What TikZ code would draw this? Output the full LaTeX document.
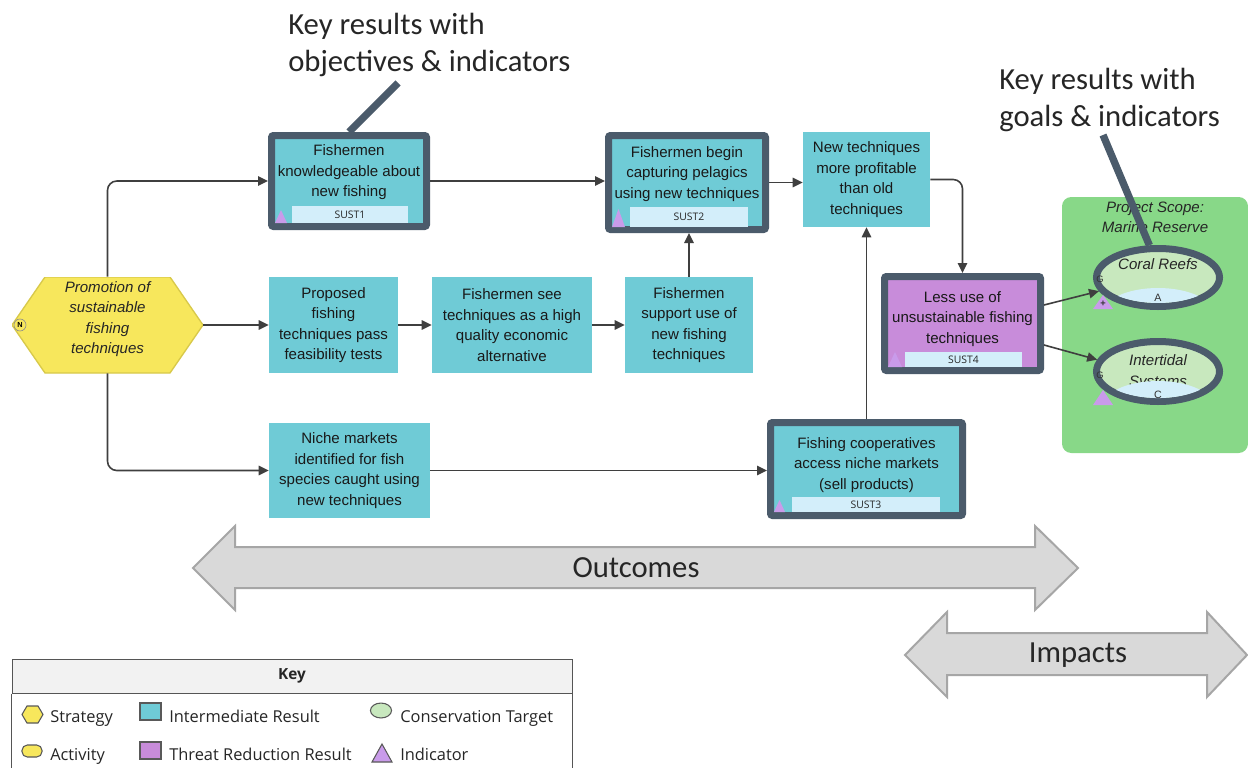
\documentclass[tikz,border=0pt]{standalone}
\usepackage{fontspec}
\setmainfont{Liberation Sans}
\newfontfamily\calib{Carlito}
\newfontfamily\segoe{Open Sans}
\usetikzlibrary{arrows.meta,calc,shapes.geometric}
\definecolor{irteal}{HTML}{6FCBD6}
\definecolor{kdark}{HTML}{4B5B6B}
\definecolor{trpurple}{HTML}{C88CDA}
\definecolor{indpurple}{HTML}{C99BEA}
\definecolor{subblue}{HTML}{D3EEFA}
\definecolor{hexy}{HTML}{F7E75C}
\definecolor{hexline}{HTML}{D8C94A}
\definecolor{scopegreen}{HTML}{88D888}
\definecolor{tgreen}{HTML}{C8E8BE}
\definecolor{arrfill}{HTML}{D9D9D9}
\definecolor{arrline}{HTML}{A6A6A6}
\definecolor{linec}{HTML}{3F3F3F}
\definecolor{keyborder}{HTML}{555555}
\definecolor{keyhead}{HTML}{F2F2F2}
\tikzset{
  conn/.style={draw=linec, line width=1.2pt, -{Triangle[length=7.5pt,width=7pt]}},
  rnd/.style={rounded corners=7pt},
  sz/.style 2 args={minimum width=#1*0.75pt, minimum height=#2*0.75pt},
  btxt/.style={font=\fontsize{11.3}{15.4}\selectfont, align=center, text=black!90},
  irbox/.style={rectangle, fill=irteal, inner sep=0pt, btxt},
  trbox/.style={rectangle, fill=trpurple, inner sep=0pt, btxt},
  keyres/.style={draw=kdark, line width=5.25pt, rounded corners=1.5pt},
  subb/.style={rectangle, fill=subblue, inner sep=0pt, text=black!85, font=\segoe\fontsize{7.8}{9}\selectfont},
  indic/.style={fill=indpurple},
  calline/.style={draw=kdark, line width=5.5pt},
  bigtxt/.style={font=\calib\fontsize{23}{27.5}\selectfont, align=left, inner sep=0pt, text=black!85},
  blockarrow/.style={fill=arrfill, draw=arrline, line width=1.5pt, line join=miter},
  itxt/.style={font=\itshape\fontsize{11.3}{15.4}\selectfont, align=center, inner sep=0pt, text=black!85},
  tiny/.style={font=\fontsize{7}{8}\selectfont, inner sep=0pt, text=black!80},
  legtxt/.style={anchor=base west, inner sep=0pt, font=\segoe\fontsize{12.3}{14}\selectfont, text=black!85},
  legicon/.style={draw=black!65, line width=0.8pt},
}
\begin{document}
\begin{tikzpicture}[x=0.75pt,y=-0.75pt]
\useasboundingbox (0,0) rectangle (1248,767);
\fill[white] (0,0) rectangle (1248,767);

% ---------- strategy ----------
\node[rectangle, sz={191}{96}, inner sep=0pt, itxt,
  path picture={\filldraw[fill=hexy, draw=hexline, line width=1pt]
    (path picture bounding box.west)
    -- ($(path picture bounding box.north west)+(33,0)$)
    -- ($(path picture bounding box.north east)+(-33,0)$)
    -- (path picture bounding box.east)
    -- ($(path picture bounding box.south east)+(-33,0)$)
    -- ($(path picture bounding box.south west)+(33,0)$) -- cycle;}]
  (strat) at (107.5,325) {Promotion of\\sustainable\\fishing\\techniques\\[-4pt]\mbox{}};
\node[circle, fill=hexy, draw=black!45, line width=0.5pt, inner sep=0pt, minimum size=9pt,
  font=\bfseries\fontsize{5.5}{6}\selectfont] (nmark) at (20,325) {N};

% ---------- result boxes ----------
\node[irbox, keyres, sz={155}{91}] (s1) at (349,181) {Fishermen\\knowledgeable about\\new fishing\\\mbox{}};
\node[irbox, keyres, sz={157}{94}] (s2) at (687,182.5) {Fishermen begin\\capturing pelagics\\using new techniques\\\mbox{}};
\node[irbox, sz={127}{95}] (newt) at (866.5,179.5) {New techniques\\more profitable\\than old\\techniques};
\node[irbox, sz={129}{96}] (prop) at (333.5,325) {Proposed\\fishing\\techniques pass\\feasibility tests};
\node[irbox, sz={160}{96}] (see) at (512,325) {Fishermen see\\techniques as a high\\quality economic\\alternative};
\node[irbox, sz={128}{96}] (supp) at (689,325) {Fishermen\\support use of\\new fishing\\techniques};
\node[irbox, sz={161}{95}] (niche) at (349.5,470.5) {Niche markets\\identified for fish\\species caught using\\new techniques};
\node[irbox, keyres, sz={192}{93}] (s3) at (866.5,469) {Fishing cooperatives\\access niche markets\\(sell products)\\[-7pt]\mbox{}};
\node[trbox, keyres, sz={156}{94}] (s4) at (962.5,323.5) {Less use of\\unsustainable fishing\\techniques\\[-6pt]\mbox{}};

% sub-boxes and indicators
\node[subb, sz={116}{17}] (s1i) at (350,214.5) {SUST1};
\node[subb, sz={118}{20}] (s2i) at (689,216.5) {SUST2};
\node[subb, sz={148}{15}] (s3i) at (866,504.5) {SUST3};
\node[subb, sz={117}{15}] (s4i) at (963.5,359.5) {SUST4};
\fill[indic] (275,223) -- (281,210) -- (287,223) -- cycle;
\fill[indic] (612,227) -- (618.5,209) -- (625,227) -- cycle;
\fill[indic] (774,512) -- (779.5,500) -- (785,512) -- cycle;
\fill[indic] (888,367) -- (895,352) -- (902,367) -- cycle;

% ---------- project scope ----------
\node[rectangle, rounded corners=7pt, fill=scopegreen, sz={186}{256}] (scope) at (1155,325) {};
\node[itxt] (scopet) at (1155,217) {Project Scope:\\Marine Reserve};

% coral reefs
\node[ellipse, fill=tgreen, draw=kdark, line width=5.25pt, inner sep=0pt, sz={123}{58}] (coral) at (1158,277.5) {};
\node[itxt] (coralt) at (1158,264) {Coral Reefs};
\begin{scope}
  \clip (1158,277.5) ellipse (43.5pt and 19.1pt);
  \fill[subblue] (1158,313) ellipse (41.25pt and 18.75pt);
\end{scope}
\node[tiny, font=\fontsize{8}{9}\selectfont] (corala) at (1158,298) {A};
\node[tiny] (coralg) at (1100,279) {G};
\fill[indic] (1093,309) -- (1103,295) -- (1113,309) -- cycle;
\node[tiny, font=\bfseries\fontsize{7}{8}\selectfont] (coralp) at (1103,304) {+};

% intertidal systems
\node[ellipse, fill=tgreen, draw=kdark, line width=5.25pt, inner sep=0pt, sz={123}{60}] (inter) at (1158,371.5) {};
\node[itxt] (intert) at (1158,372) {Intertidal\\Systems};
\begin{scope}
  \clip (1158,371.5) ellipse (43.5pt and 19.9pt);
  \fill[subblue] (1158,406) ellipse (41.25pt and 18.75pt);
\end{scope}
\node[tiny, font=\fontsize{8}{9}\selectfont] (interc) at (1158,395) {C};
\node[tiny] (interg) at (1100,375) {G};
\fill[indic] (1093,405) -- (1103,390) -- (1113,405) -- cycle;

% ---------- connectors ----------
\draw[conn, rnd] (strat.north) |- (s1.west);
\draw[conn, rnd] (strat.south) |- (niche.west);
\draw[conn] (strat.east) -- (prop.west);
\draw[conn] (prop.east) -- (see.west);
\draw[conn] (see.east) -- (supp.west);
\draw[conn] (supp.north) -- (supp.north |- s2.south);
\draw[conn] (s1.east) -- (s1.east -| s2.west);
\draw[conn] (s2.east) -- (s2.east -| newt.west);
\draw[conn, rnd] (newt.east) -| (s4.north);
\draw[conn] (s3.north) -- (s3.north |- newt.south);
\draw[conn] (niche.east) -- (niche.east -| s3.west);
\draw[conn] ($(s4.east)+(0,-18.5)$) -- (coral.193);
\draw[conn] ($(s4.east)+(0,21.5)$) -- (inter.169);

% ---------- callouts ----------
\node[bigtxt, anchor=west] (k1) at (288,45) {Key results with\\objectives \& indicators};
\coordinate (c1) at (398,83);
\draw[calline] (c1) -- (s1.north);
\node[bigtxt, anchor=west] (k2) at (999,100) {Key results with\\goals \& indicators};
\coordinate (c2) at (1103,135);
\draw[calline] (c2) -- (coral.105);

% ---------- outcomes / impacts ----------
\filldraw[blockarrow] (193,568) -- (235,526) -- (235,547) -- (1035,547) -- (1035,526) -- (1078,568)
  -- (1035,610) -- (1035,588) -- (235,588) -- (235,610) -- cycle;
\node[font=\calib\fontsize{23}{27}\selectfont, text=black!85] (outc) at (636,568) {Outcomes};
\filldraw[blockarrow] (905,655) -- (947,612) -- (947,633) -- (1207,633) -- (1207,612) -- (1247,655)
  -- (1207,697) -- (1207,675) -- (947,675) -- (947,697) -- cycle;
\node[font=\calib\fontsize{23}{27}\selectfont, text=black!85] (imp) at (1078,655) {Impacts};

% ---------- key ----------
\node[draw=keyborder, fill=keyhead, line width=0.75pt, sz={560}{34}, inner sep=0pt,
  font=\segoe\bfseries\fontsize{11.5}{13}\selectfont, text=black!85] (khead) at (292,676) {Key};
\draw[keyborder, line width=0.75pt] (khead.south west) -- ++(0,120);
\draw[keyborder, line width=0.75pt] (khead.south east) -- ++(0,120);

\filldraw[legicon, fill=hexy] (22,714.5) -- (27,706) -- (38,706) -- (43,714.5) -- (38,723) -- (27,723) -- cycle;
\filldraw[legicon, fill=hexy, rounded corners=4pt] (22,745) rectangle (42,757);
\filldraw[legicon, fill=irteal] (140,703) rectangle (161,720);
\filldraw[legicon, fill=trpurple] (140,742) rectangle (161,759);
\filldraw[legicon, fill=tgreen] (381,710.5) ellipse (7.9pt and 5.6pt);
\filldraw[legicon, fill=indpurple] (372,762) -- (382,744) -- (392,762) -- cycle;

\node[legtxt] (lstr) at (50,722) {Strategy};
\node[legtxt] (lir) at (169,722) {Intermediate Result};
\node[legtxt] (lct) at (400,722) {Conservation Target};
\node[legtxt] (lact) at (50,760) {Activity};
\node[legtxt] (ltr) at (169,760) {Threat Reduction Result};
\node[legtxt] (lind) at (400,760) {Indicator};
\end{tikzpicture}
\end{document}
